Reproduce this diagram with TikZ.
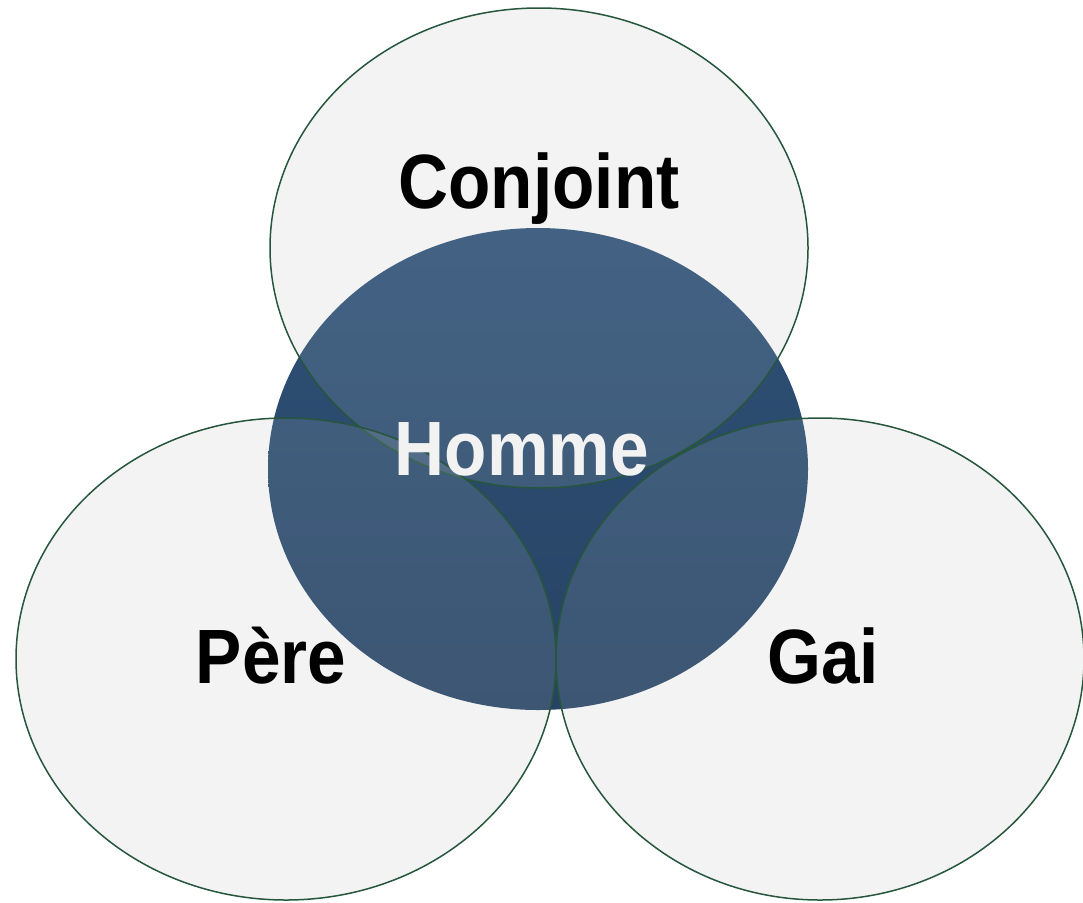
\documentclass[tikz,border=0pt]{standalone}
\usepackage{fontspec}
\setmainfont{Liberation Sans}[FakeStretch=0.9]
\definecolor{ringline}{RGB}{38,86,60}
\definecolor{ringfill}{RGB}{242,242,242}
\definecolor{hommetop}{RGB}{46,81,118}
\definecolor{hommebot}{RGB}{39,67,100}
\tikzset{
  ring/.style={fill=ringfill},
  ringedge/.style={draw=ringline, line width=1.5pt, fill=white, fill opacity=0.1},
  bigword/.style={font=\bfseries\fontsize{77}{77}\selectfont, anchor=base, inner sep=0pt}
}
\begin{document}
\begin{tikzpicture}[x=1pt,y=-1pt]
      \useasboundingbox (0,0) rectangle (1083,902);
      % light rings underneath
      \fill[ring] (539,248) ellipse (269 and 240);
      \fill[ring] (286,659) ellipse (270 and 241);
      \fill[ring] (820,659) ellipse (264 and 241);
      % dark centre
      \shade[top color=hommetop, bottom color=hommebot] (538,469) ellipse (270 and 241);
      % ring outlines on top
      \draw[ringedge] (539,248) ellipse (269 and 240);
      \draw[ringedge] (286,659) ellipse (270 and 241);
      \draw[ringedge] (820,659) ellipse (264 and 241);
      \draw
        (539,208) node[bigword] (conjoint){Conjoint}
        (522,475) node[bigword, text=ringfill] (homme){Homme}
        (271,683) node[bigword] (pere){Père}
        (823,683) node[bigword] (gai){Gai};
    \end{tikzpicture}
\end{document}
